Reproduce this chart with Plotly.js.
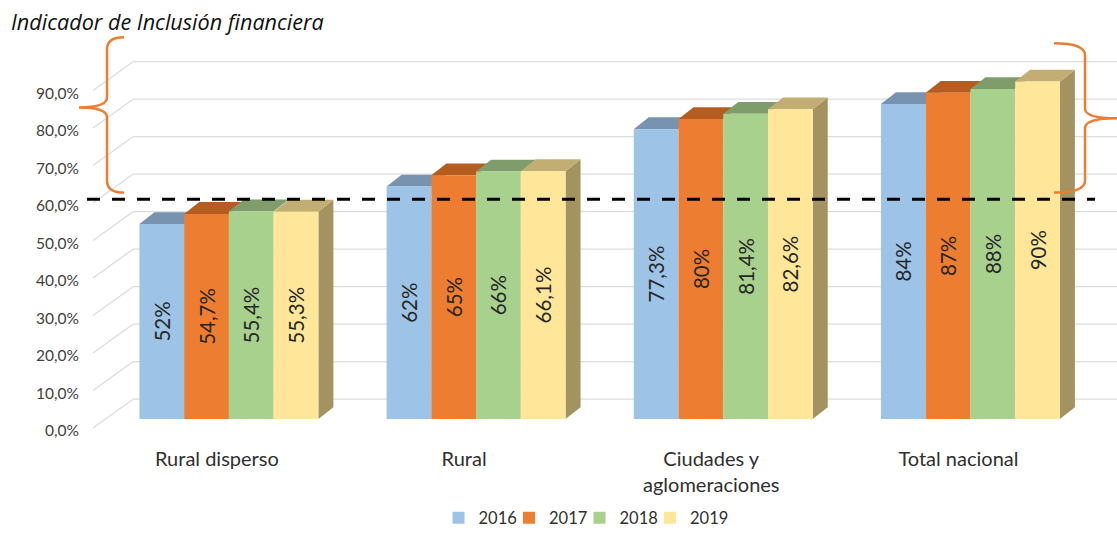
<!DOCTYPE html>
<html><head><meta charset="utf-8">
<script src="https://cdn.plot.ly/plotly-3.0.1.min.js"></script>
<style>html,body{margin:0;padding:0;background:#fff}#chart{width:1117px;height:536px}</style>
</head><body><div id="chart"></div>
<script>
// ---- data ----
const categories = ['Rural disperso', 'Rural', 'Ciudades y<br>aglomeraciones', 'Total nacional'];
const years = ['2016', '2017', '2018', '2019'];
const v2016 = [52, 62, 77.3, 84];
const v2017 = [54.7, 65, 80, 87];
const v2018 = [55.4, 66, 81.4, 88];
const v2019 = [55.3, 66.1, 82.6, 90];
const yTicks = [0, 10, 20, 30, 40, 50, 60, 70, 80, 90];
const umbral = 58.6;

// ---- styles ----
const series = [v2016, v2017, v2018, v2019];
const frontColors = ['#9DC3E6', '#ED7D31', '#A9D18E', '#FFE699'];
const topColors = ['#7793B0', '#B55D21', '#7F9D6B', '#C2AE73'];
const sideColors = ['#6A87A5', '#9C4E1A', '#6F8A5C', '#A39361'];
const W = 1117, H = 536;
const M = {l: 90, r: 0, t: 59, b: 98};
const xRange = [-0.562, 3.593];
const yRange = [-4, 96];
const bargap = 0.276;
const plotW = W - M.l - M.r, plotH = H - M.t - M.b;
const pxPerX = plotW / (xRange[1] - xRange[0]);
const pxPerY = plotH / (yRange[1] - yRange[0]);
const depthX = 15 / pxPerX, depthY = 12 / pxPerY;
const catX = categories.map((c, i) => i);
const fmt = v => String(v).replace('.', ',') + '%';
const font = 'Lato, "Open Sans", sans-serif';

// pixel helpers -> paper
const pxToPaperX = px => (px - M.l) / plotW;
const pyToPaperY = py => (H - M.b - py) / plotH;
const yToPy = v => H - M.b - (v - yRange[0]) * pxPerY;

const traces = series.map((vals, j) => ({
  type: 'bar', x: catX, y: vals, name: years[j],
  marker: {color: frontColors[j], line: {width: 0}},
  text: vals.map(fmt), textposition: 'inside', insidetextanchor: 'middle',
  textangle: -90, textfont: {family: font, size: 20.5, color: '#262626'},
  legendwidth: j === series.length - 1 ? 44 : 25.5,
  hoverinfo: 'skip'
}));

const shapes = [];
// gridlines (front diagonal + back wall)
yTicks.forEach(v => {
  const py = yToPy(v);
  const frontY = pyToPaperY(py + 9), backY = pyToPaperY(py - 20);
  shapes.push({type: 'line', xref: 'paper', yref: 'paper', layer: 'below',
    x0: pxToPaperX(93), y0: frontY, x1: pxToPaperX(133), y1: backY,
    line: {color: '#DCDCDC', width: 1.3}});
  shapes.push({type: 'line', xref: 'paper', yref: 'paper', layer: 'below',
    x0: pxToPaperX(133), y0: backY, x1: 1, y1: backY,
    line: {color: '#DCDCDC', width: 1.3}});
});
// 3D bar faces
const bw = (1 - bargap) / series.length;
catX.forEach((c, i) => {
  series.forEach((vals, j) => {
    const v = vals[i];
    const x0 = c - (1 - bargap) / 2 + j * bw, x1 = x0 + bw;
    if (j === series.length - 1) {
      shapes.push({type: 'path', xref: 'x', yref: 'y', layer: 'below',
        path: `M${x1},0 L${x1 + depthX},${depthY} L${x1 + depthX},${v + depthY} L${x1},${v} Z`,
        fillcolor: sideColors[j], line: {width: 0}});
    }
    shapes.push({type: 'path', xref: 'x', yref: 'y', layer: 'below',
      path: `M${x0},${v} L${x1},${v} L${x1 + depthX},${v + depthY} L${x0 + depthX},${v + depthY} Z`,
      fillcolor: topColors[j], line: {width: 0}});
  });
});
// threshold dashed line
const umbralY = pyToPaperY(yToPy(umbral));
shapes.push({type: 'line', xref: 'paper', yref: 'paper', layer: 'above',
  x0: pxToPaperX(87), x1: pxToPaperX(1095), y0: umbralY, y1: umbralY,
  line: {color: '#000000', width: 3, dash: '13px,12px'}});
// braces
function bracePath(pts) {
  return pts.map(seg => seg[0] + seg.slice(1).map(p => pxToPaperX(p[0]) + ',' + pyToPaperY(p[1])).join(' ')).join(' ');
}
const leftBrace = [['M', [124, 37]], ['Q', [107, 37], [107, 49]], ['L', [107, 98]], ['Q', [107, 108], [79, 108]],
  ['Q', [107, 108], [107, 118]], ['L', [107, 182]], ['Q', [107, 194], [124, 194]]];
const rightBrace = [['M', [1054, 43]], ['Q', [1085, 43], [1085, 55]], ['L', [1085, 109]], ['Q', [1085, 119], [1117, 119]],
  ['Q', [1085, 119], [1085, 129]], ['L', [1085, 182]], ['Q', [1085, 194], [1054, 194]]];
[leftBrace, rightBrace].forEach(b => shapes.push({type: 'path', xref: 'paper', yref: 'paper', layer: 'above',
  path: bracePath(b), line: {color: '#ED7D31', width: 2.5}}));

const layout = {
  width: W, height: H, margin: M,
  paper_bgcolor: '#FFFFFF', plot_bgcolor: 'rgba(0,0,0,0)',
  separators: ',.',
  barmode: 'group', bargap: bargap, bargroupgap: 0,
  title: {text: 'Indicador de Inclusión financiera', xref: 'container', yref: 'container',
    x: 11 / W, xanchor: 'left', y: 1 - 22 / H, yanchor: 'middle',
    font: {family: '"Open Sans", Lato, sans-serif', size: 21.6, style: 'italic', color: '#111111'}},
  xaxis: {range: xRange, autorange: false, tickvals: catX, ticktext: categories,
    showgrid: false, zeroline: false, showline: false, ticks: '',
    tickfont: {family: font, size: 20, color: '#303030'}, ticklabelshift: -12, ticklabelstandoff: 11},
  yaxis: {range: yRange, autorange: false, tickvals: yTicks, ticktext: yTicks.map(v => v.toFixed(1).replace('.', ',') + '%'),
    showgrid: false, zeroline: false, showline: false, ticks: '',
    tickfont: {family: font, size: 15.5, color: '#404040'}, ticklabelshift: 12, ticklabelstandoff: 10},
  legend: {orientation: 'h', x: pxToPaperX(589), xanchor: 'center', y: pyToPaperY(523), yanchor: 'middle',
    font: {family: font, size: 16.5, color: '#303030'}, traceorder: 'normal', entrywidth: 25.5, entrywidthmode: 'pixels'},
  shapes: shapes,
  showlegend: true
};
Plotly.newPlot('chart', traces, layout, {displayModeBar: false, staticPlot: true});
</script>
</body></html>
